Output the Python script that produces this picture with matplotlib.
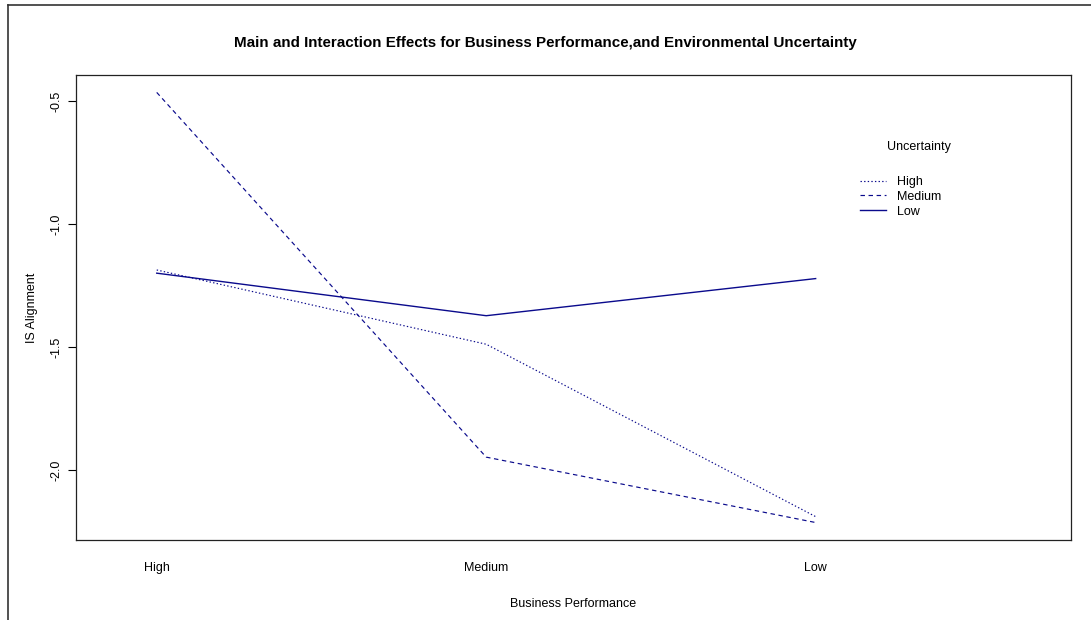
import numpy as np
import matplotlib
matplotlib.use("Agg")
import matplotlib.pyplot as plt
from matplotlib.lines import Line2D

plt.rcParams['font.family'] = ['Liberation Sans', 'DejaVu Sans']
plt.rcParams['lines.scale_dashes'] = False

# business performance levels on the x axis
perf_levels = ["High", "Medium", "Low"]
# mean IS alignment for each uncertainty level
unc_high = [-1.187, -1.489, -2.190]
unc_medium = [-0.465, -1.948, -2.214]
unc_low = [-1.200, -1.373, -1.222]
trace_names = ["High", "Medium", "Low"]

col = '#0a0a8c'
fs = 9

fig = plt.figure(figsize=(10.91, 6.2), dpi=100)
ax = fig.add_axes([76 / 1091, 1 - 540 / 620, (1071 - 76) / 1091, (540 - 74.7) / 620])

x = np.arange(1, len(perf_levels) + 1)
l1, = ax.plot(x, unc_high, color=col, lw=0.85, dashes=(1, 1.6))
l2, = ax.plot(x, unc_medium, color=col, lw=0.85, dashes=(3.2, 2.6))
l3, = ax.plot(x, unc_low, color=col, lw=1.0)

ax.set_xlim(0.755, 3.775)
ax.set_ylim(-2.285, -0.393)

ax.set_xticks(x)
ax.set_xticklabels(perf_levels, fontsize=fs)
ax.tick_params(axis='x', length=0, pad=16)
ax.set_yticks([-2.0, -1.5, -1.0, -0.5])
ax.set_yticklabels(["-2.0", "-1.5", "-1.0", "-0.5"], fontsize=fs, rotation=90, va='center')
ax.tick_params(axis='y', length=6, width=0.8, pad=4)

for s in ax.spines.values():
    s.set_linewidth(0.9)
    s.set_color('#222222')

ax.set_xlabel("Business Performance", fontsize=fs, labelpad=17)
ax.set_ylabel("IS Alignment", fontsize=fs, labelpad=9)

fig.text(545 / 1091, 1 - 43 / 620, "Main and Interaction Effects for Business Performance,and Environmental Uncertainty",
         ha='center', va='center', fontsize=10.9, fontweight='bold')

# legend
fig.text(887 / 1091, 1 - 147 / 620, "Uncertainty", ha='left', va='center', fontsize=fs)
ax.legend([l1, l2, l3], trace_names, loc='upper left', bbox_to_anchor=(860 / 1091, 1 - 176 / 620),
          bbox_transform=fig.transFigure, frameon=False, fontsize=fs, borderpad=0, borderaxespad=0,
          handlelength=2.1, handletextpad=0.9, labelspacing=0.22)

# outer frame (left and top edges)
fig.add_artist(Line2D([8 / 1091, 8 / 1091], [0, 1 - 5 / 620], transform=fig.transFigure, color='#333333', lw=1.2))
fig.add_artist(Line2D([8 / 1091, 1], [1 - 5 / 620, 1 - 5 / 620], transform=fig.transFigure, color='#333333', lw=1.2))

fig.savefig("out.png", dpi=100)
